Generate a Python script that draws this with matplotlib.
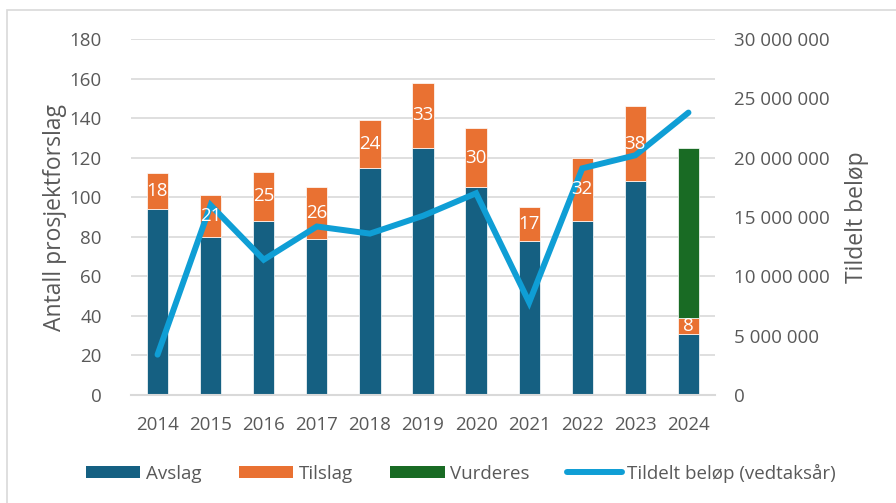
"""Stacked bars of project proposals with awarded amount on a second axis."""

import matplotlib

matplotlib.use("Agg")
import matplotlib.pyplot as plt
import numpy as np
from matplotlib.lines import Line2D
from matplotlib.patches import Patch, Rectangle
from matplotlib.ticker import FuncFormatter

years = ["2014", "2015", "2016", "2017", "2018", "2019", "2020", "2021", "2022", "2023", "2024"]
avslag = [94, 80, 88, 79, 115, 125, 105, 78, 88, 108, 31]
tilslag = [18, 21, 25, 26, 24, 33, 30, 17, 32, 38, 8]
vurderes = [0, 0, 0, 0, 0, 0, 0, 0, 0, 0, 86]
tildelt = [3.4e6, 16.0e6, 11.4e6, 14.2e6, 13.6e6, 15.1e6, 17.0e6, 7.8e6, 19.1e6, 20.2e6, 23.8e6]

C_AVSLAG = "#156082"
C_TILSLAG = "#E97132"
C_VURDERES = "#196B24"
C_LINE = "#0F9ED5"
C_TEXT = "#595959"
C_GRID = "#D9D9D9"
FS = 13.5

plt.rcParams.update({"font.family": ["Open Sans", "DejaVu Sans"], "font.size": FS})

W, H = 896, 503
fig = plt.figure(figsize=(W / 100, H / 100), dpi=100)
ax = fig.add_axes([131 / W, 108 / H, 584 / W, 356 / H])
ax2 = ax.twinx()

x = np.arange(len(years))
bw = 0.4
edge = dict(edgecolor="white", linewidth=0.5)
ax.bar(x, avslag, bw, color=C_AVSLAG, zorder=2, **edge)
ax.bar(x, tilslag, bw, bottom=avslag, color=C_TILSLAG, zorder=2, **edge)
bottoms = np.array(avslag) + np.array(tilslag)
mask = np.array(vurderes) > 0
ax.bar(x[mask], np.array(vurderes)[mask], bw, bottom=bottoms[mask], color=C_VURDERES, zorder=2, **edge)

ax.set_xlim(-0.5, len(years) - 0.5)
ax.set_ylim(0, 180)
ax.set_yticks(range(0, 181, 20))
ax.set_xticks(x)
ax.set_xticklabels(years)
ax.grid(axis="y", color=C_GRID, linewidth=1.2, zorder=0)
ax.set_axisbelow(True)
for s in ["top", "right", "left"]:
    ax.spines[s].set_visible(False)
ax.spines["bottom"].set_color(C_GRID)
ax.spines["bottom"].set_linewidth(1.5)
ax.tick_params(axis="both", length=0, colors=C_TEXT, labelsize=FS)
ax.tick_params(axis="y", pad=21)
ax.tick_params(axis="x", pad=15)

ax2.plot(x, tildelt, color=C_LINE, linewidth=4.3, solid_capstyle="round", solid_joinstyle="miter", zorder=2)
ax2.set_ylim(0, 30e6)
ax2.set_yticks(np.arange(0, 30e6 + 1, 5e6))
ax2.yaxis.set_major_formatter(FuncFormatter(lambda v, p: f"{int(v):,}".replace(",", " ")))
for s in ["top", "right", "left", "bottom"]:
    ax2.spines[s].set_visible(False)
ax2.tick_params(axis="y", length=0, colors=C_TEXT, labelsize=FS, pad=14)

# data labels on the Tilslag segments, above the line
for i in range(len(years)):
    ax2.text(x[i], avslag[i] + tilslag[i] / 2, str(tilslag[i]), transform=ax.transData,
             ha="center", va="center", color="white", fontsize=FS, zorder=5)

fig.text(55 / W, 1 - 217 / H, "Antall prosjektforslag", rotation=90, ha="center", va="center",
         color=C_TEXT, fontsize=16.5)
fig.text(857 / W, 1 - 217 / H, "Tildelt beløp", rotation=90, ha="center", va="center",
         color=C_TEXT, fontsize=16.5)

handles = [
    Patch(facecolor=C_AVSLAG, label="Avslag"),
    Patch(facecolor=C_TILSLAG, label="Tilslag"),
    Patch(facecolor=C_VURDERES, label="Vurderes"),
    Line2D([0], [0], color=C_LINE, linewidth=4.3, solid_capstyle="round", label="Tildelt beløp (vedtaksår)"),
]
leg = fig.legend(handles=handles, loc="center", bbox_to_anchor=(461 / W, 30 / H), ncol=4, frameon=False,
                 fontsize=FS, handlelength=2.9, handleheight=0.64, handletextpad=0.3, columnspacing=2.0)
for t in leg.get_texts():
    t.set_color(C_TEXT)

fig.patches.append(Rectangle((7 / W, -0.1), 1.2, (H - 10) / H + 0.1, transform=fig.transFigure,
                             fill=False, edgecolor=C_GRID, linewidth=1.2))

fig.savefig("out.png", dpi=100)
